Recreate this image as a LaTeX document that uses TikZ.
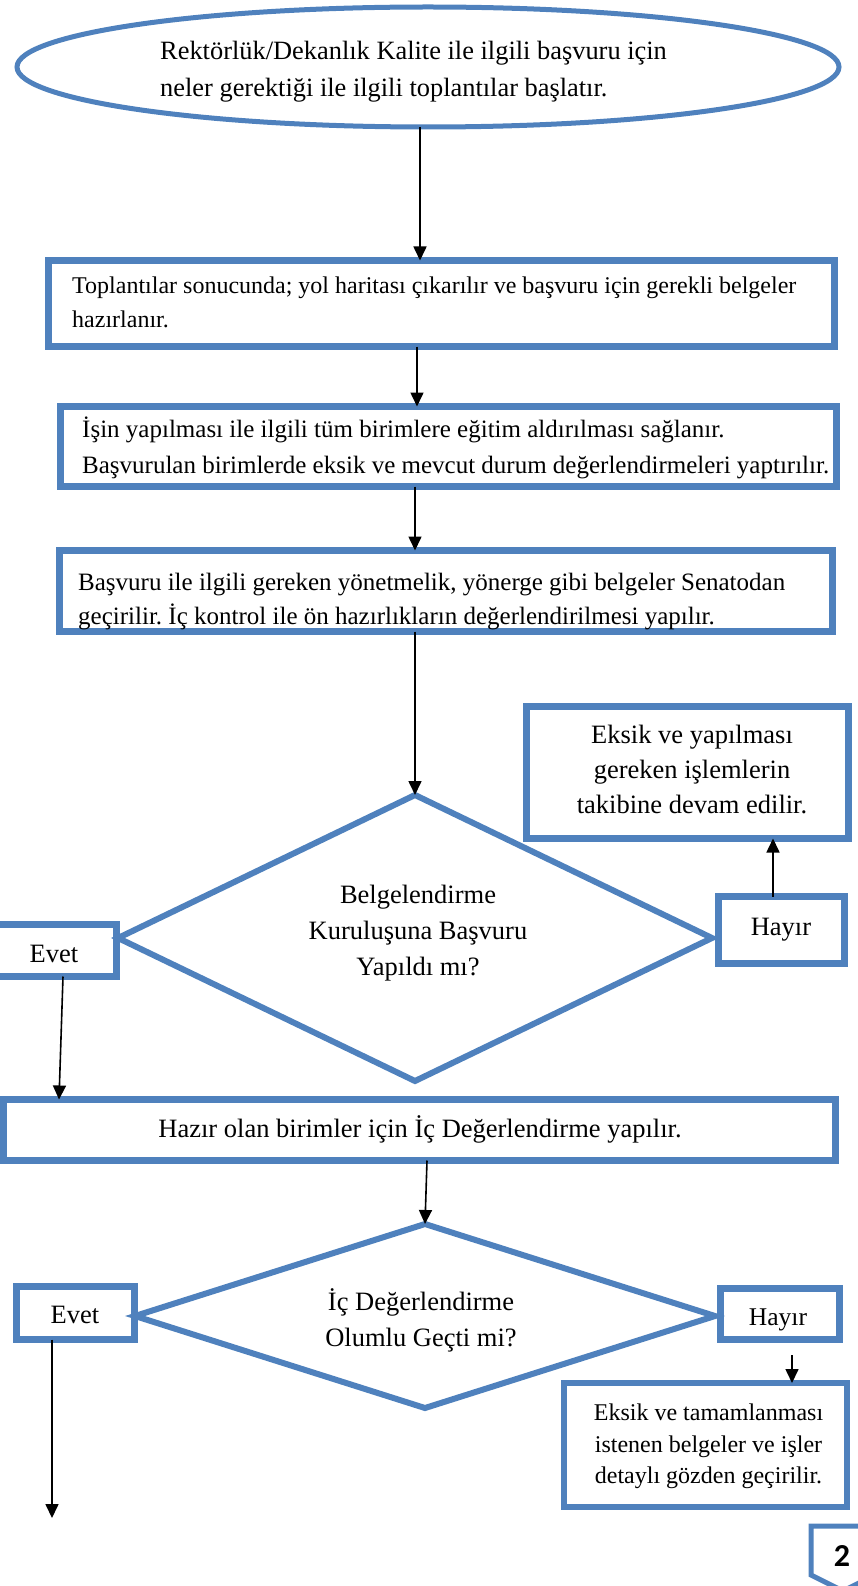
\documentclass[tikz,border=0pt]{standalone}
\usepackage{fontspec}
\setmainfont{Liberation Serif}
\newfontfamily\badgefont{Carlito}
\usetikzlibrary{shapes.geometric,arrows.meta}
\definecolor{wblue}{RGB}{79,129,189}
\frenchspacing
\begin{document}
\begin{tikzpicture}[x=1pt,y=-1pt,
  box/.style={draw=wblue, line width=6.5pt, rectangle, inner sep=0pt, outer sep=0pt},
  dia/.style={draw=wblue, line width=6pt, diamond, inner sep=0pt, outer sep=0pt},
  arr/.style={draw=black, line width=1.6pt, -{Triangle[width=13pt,length=14pt]}},
  txa/.style={anchor=base west, inner sep=0pt, font=\fontsize{25}{34}\selectfont},
  txb/.style={anchor=base, inner sep=0pt, font=\fontsize{26.5}{36}\selectfont},
  txc/.style={anchor=base west, inner sep=0pt, font=\fontsize{26.4}{37}\selectfont},
  txd/.style={anchor=base, inner sep=0pt, font=\fontsize{24}{33}\selectfont}]
\useasboundingbox (0,0) rectangle (857,1586);

% shapes
\node[draw=wblue, line width=5pt, ellipse, inner sep=0pt, outer sep=0pt,
      minimum width=822pt, minimum height=120pt] (start) at (428,67) {};
\node[box, minimum width=786pt, minimum height=86pt] (s1) at (441.5,303.5) {};
\node[box, minimum width=776pt, minimum height=80pt] (s2) at (448.5,446.5) {};
\node[box, minimum width=773pt, minimum height=81pt] (s3) at (446,591) {};
\node[dia, minimum width=594pt, minimum height=286pt] (d1) at (415,938) {};
\node[box, minimum width=129pt, minimum height=52pt] (evet1) at (52,950.5) {};
\node[box, minimum width=126pt, minimum height=67pt] (hayir1) at (781.5,930) {};
\node[box, minimum width=322pt, minimum height=132pt] (eksik1) at (687.5,772.5) {};
\node[box, minimum width=832pt, minimum height=61pt] (hazir) at (419.5,1130) {};
\node[dia, minimum width=580pt, minimum height=184pt] (d2) at (425,1316) {};
\node[box, minimum width=118pt, minimum height=53pt] (evet2) at (75.5,1313) {};
\node[box, minimum width=119pt, minimum height=51pt] (hayir2) at (780,1314) {};
\node[box, minimum width=283pt, minimum height=124pt] (eksik2) at (705.5,1445) {};
\draw[wblue, line width=5pt] (811,1526) -- (811,1575) -- (843,1591) -- (875,1575) -- (875,1526) -- cycle;

% texts
\node[txc] (t0a) at (160,60) {Rektörlük/Dekanlık Kalite ile ilgili başvuru için};
\node[txc] (t0b) at (160,97) {neler gerektiği ile ilgili toplantılar başlatır.};
\node[txa, font=\fontsize{24}{34}\selectfont] (t1a) at (72,294) {Toplantılar sonucunda; yol haritası çıkarılır ve başvuru için gerekli belgeler};
\node[txa, font=\fontsize{24}{34}\selectfont] (t1b) at (72,327) {hazırlanır.};
\node[txa] (t2a) at (82,437) {İşin yapılması ile ilgili tüm birimlere eğitim aldırılması sağlanır.};
\node[txa] (t2b) at (82,473) {Başvurulan birimlerde eksik ve mevcut durum değerlendirmeleri yaptırılır.};
\node[txa] (t3a) at (78,590) {Başvuru ile ilgili gereken yönetmelik, yönerge gibi belgeler Senatodan};
\node[txa] (t3b) at (78,624) {geçirilir. İç kontrol ile ön hazırlıkların değerlendirilmesi yapılır.};
\node[txb] (te1a) at (692,743) {Eksik ve yapılması};
\node[txb] (te1b) at (692,778) {gereken işlemlerin};
\node[txb] (te1c) at (692,813) {takibine devam edilir.};
\node[txb] (td1a) at (418,903) {Belgelendirme};
\node[txb] (td1b) at (418,939) {Kuruluşuna Başvuru};
\node[txb] (td1c) at (418,975) {Yapıldı mı?};
\node[txb] (tev1) at (54,962) {Evet};
\node[txb] (tha1) at (781,935) {Hayır};
\node[txb] (thz) at (420,1137) {Hazır olan birimler için İç Değerlendirme yapılır.};
\node[txb] (td2a) at (421,1310) {İç Değerlendirme};
\node[txb] (td2b) at (421,1346) {Olumlu Geçti mi?};
\node[txb] (tev2) at (75,1323) {Evet};
\node[txb, font=\fontsize{25.5}{34}\selectfont] (tha2) at (778,1325) {Hayır};
\node[txd] (te2a) at (708.5,1420) {Eksik ve tamamlanması};
\node[txd] (te2b) at (708.5,1452) {istenen belgeler ve işler};
\node[txd] (te2c) at (708.5,1483) {detaylı gözden geçirilir.};
\node[inner sep=0pt, font=\badgefont\bfseries\fontsize{32}{36}\selectfont] (badge) at (842,1556) {2};

% connectors
\coordinate (e2end) at (52,1518);
\coordinate (h2start) at (792,1355);
\draw[arr] (start.south -| 420,0) -- (s1.north -| 420,0);
\draw[arr] (s1.south -| 417,0) -- (s2.north -| 417,0);
\draw[arr] (s2.south -| 415,0) -- (s3.north -| 415,0);
\draw[arr] (s3.south -| 415,0) -- (d1.north);
\draw[arr] (evet1.south -| 63,0) -- (hazir.north -| 59,0);
\draw[arr] (hayir1.north -| 773,0) -- (eksik1.south -| 773,0);
\draw[arr] (hazir.south -| 427,0) -- (d2.north);
\draw[arr] (evet2.south -| 52,0) -- (e2end);
\draw[arr] (h2start) -- (eksik2.north -| 792,0);
\end{tikzpicture}
\end{document}
